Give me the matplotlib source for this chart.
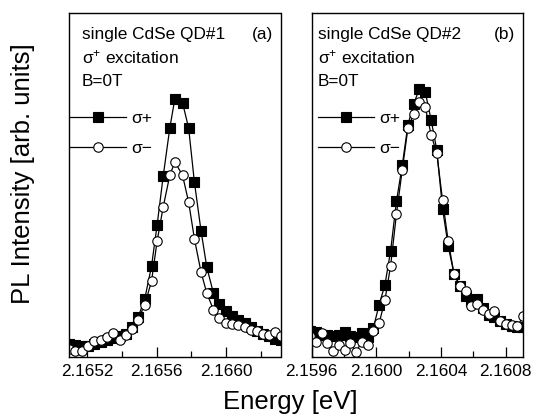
import matplotlib
matplotlib.use("Agg")
import matplotlib.pyplot as plt
from matplotlib.ticker import FixedLocator

plt.rcParams['font.family'] = ['Liberation Sans', 'DejaVu Sans']
plt.rcParams['mathtext.fontset'] = 'custom'
plt.rcParams['mathtext.rm'] = 'Liberation Sans'
plt.rcParams['mathtext.it'] = 'Liberation Sans:italic'

# ---------------- Panel (a): single CdSe QD#1 ----------------
energy_a = [2.165100, 2.165135, 2.165171, 2.165208, 2.165244, 2.165279, 2.165315,
            2.165352, 2.165388, 2.165423, 2.165459, 2.165494, 2.165532, 2.165571,
            2.165603, 2.165638, 2.165676, 2.165705, 2.165749, 2.165784, 2.165817,
            2.165855, 2.165888, 2.165926, 2.165961, 2.165999, 2.166034, 2.166070,
            2.166105, 2.166141, 2.166176, 2.166210, 2.166247, 2.166282, 2.166316]
sigma_plus_a = [13, 11.7, 10.7, 11.3, 13, 14.7, 16.7, 19, 20.7, 23.3, 29.7, 39.7, 58,
                90.7, 131.7, 180.7, 229, 258.3, 254.3, 229, 175, 126.3, 90, 64, 53,
                45.7, 41.3, 37.3, 34, 29.7, 26.3, 23.3, 20.7, 18.3, 17.3]
sigma_minus_a = [8.3, 5.7, 6.3, 10.7, 15.7, 17.3, 19.7, 24, 17.3, 21.7, 28.3, 37.3,
                 52.3, 75.7, 115.7, 150, 181.7, 195, 181.7, 155, 118.3, 85, 64, 47.3,
                 39, 34, 33, 31.7, 30.3, 27.3, 25.7, 23, 22.3, 24.7, 20.7]

# ---------------- Panel (b): single CdSe QD#2 ----------------
energy_b = [2.159591, 2.159626, 2.159662, 2.159698, 2.159733, 2.159769, 2.159804,
            2.159840, 2.159876, 2.159911, 2.159947, 2.159982, 2.160018, 2.160054,
            2.160089, 2.160125, 2.160161, 2.160196, 2.160232, 2.160267, 2.160303,
            2.160339, 2.160374, 2.160410, 2.160445, 2.160481, 2.160517, 2.160552,
            2.160588, 2.160624, 2.160659, 2.160695, 2.160730, 2.160766, 2.160802,
            2.160837, 2.160873, 2.160908]
sigma_plus_b = [26.3, 25.3, 22, 21.7, 21, 21.7, 25.3, 21.3, 20.3, 23.7, 19.7, 29, 52.3,
                72.3, 106.3, 155.7, 191.7, 232.3, 253.3, 268.3, 265, 237.3, 207.3,
                148.3, 110.7, 83, 70.7, 60.7, 56.3, 58.3, 49, 41.7, 39.7, 36.3, 33,
                30.7, 29.7, 29.7]
sigma_minus_b = [20.7, 15.3, 23.7, 13.7, 6, 12, 7, 13.7, 5.3, 15.3, 12, 26.3, 33.7, 57,
                 91.3, 143, 187.3, 229, 243.3, 255, 250, 222.3, 204, 156.7, 115.7, 83,
                 71.3, 66.3, 51.3, 53, 47.3, 43, 45.7, 35.7, 33, 32.3, 30.7, 40.7]

xlim_a = (2.165096, 2.166311)
xlim_b = (2.159600, 2.160904)
major_a = [2.1652, 2.1656, 2.1660]
minor_a = [2.1654, 2.1658, 2.1662]
major_b = [2.1596, 2.1600, 2.1604, 2.1608]
minor_b = [2.1598, 2.1602, 2.1606]
ylim = (0, 344)

W, H = 537, 419
fig = plt.figure(figsize=(W / 100, H / 100), dpi=100)

def px_axes(x0, x1, y0, y1):
    return fig.add_axes([x0 / W, 1 - y1 / H, (x1 - x0) / W, (y1 - y0) / H])

ax_a = px_axes(68.7, 280.5, 13, 357)
ax_b = px_axes(311.5, 522.5, 13, 357)

panels = [
    (ax_a, energy_a, sigma_plus_a, sigma_minus_a, xlim_a, major_a, minor_a,
     "single CdSe QD#1", "(a)", 0.063, 0.006),
    (ax_b, energy_b, sigma_plus_b, sigma_minus_b, xlim_b, major_b, minor_b,
     "single CdSe QD#2", "(b)", 0.031, 0.031),
]

for ax, e, sp, sm, xl, mj, mn, title, tag, tx, lx in panels:
    ax.plot(e, sp, '-', color='black', lw=0.9, marker='s', ms=6.6,
            mfc='black', mec='black', mew=0.8, label='σ+')
    ax.plot(e, sm, '-', color='black', lw=0.9, marker='o', ms=6.8,
            mfc='white', mec='black', mew=0.8, label='σ−')
    ax.set_xlim(*xl)
    ax.set_ylim(*ylim)
    ax.xaxis.set_major_locator(FixedLocator(mj))
    ax.xaxis.set_minor_locator(FixedLocator(mn))
    ax.set_xticklabels([f"{v:.4f}" for v in mj])
    ax.set_yticks([])
    ax.tick_params(axis='x', which='major', direction='in', length=7, width=0.9,
                   labelsize=12.3, pad=5)
    ax.tick_params(axis='x', which='minor', direction='in', length=4.5, width=0.9)
    for s in ax.spines.values():
        s.set_linewidth(1.0)
    ax.text(tx, 0.924, title, transform=ax.transAxes, fontsize=12.4, va='baseline', ha='left')
    ax.text(0.964, 0.924, tag, transform=ax.transAxes, fontsize=12.4, va='baseline', ha='right')
    ax.text(tx, 0.855, 'σ$^{+}$ excitation', transform=ax.transAxes, fontsize=12.4,
            va='baseline', ha='left')
    ax.text(tx, 0.788, 'B=0T', transform=ax.transAxes, fontsize=12.4, va='baseline', ha='left')
    ax.legend(loc='upper left', bbox_to_anchor=(lx, 0.716), frameon=False,
              fontsize=12.5, handlelength=3.2, handletextpad=0.35, labelspacing=0.85,
              borderpad=0, borderaxespad=0)

fig.text(290.5 / W, 1 - 409 / H, 'Energy [eV]', fontsize=18.5, ha='center', va='baseline')
fig.text(23 / W, 1 - 174 / H, 'PL Intensity [arb. units]', fontsize=18.5, ha='center',
         va='center', rotation=90)

fig.savefig('out.png', dpi=100)
